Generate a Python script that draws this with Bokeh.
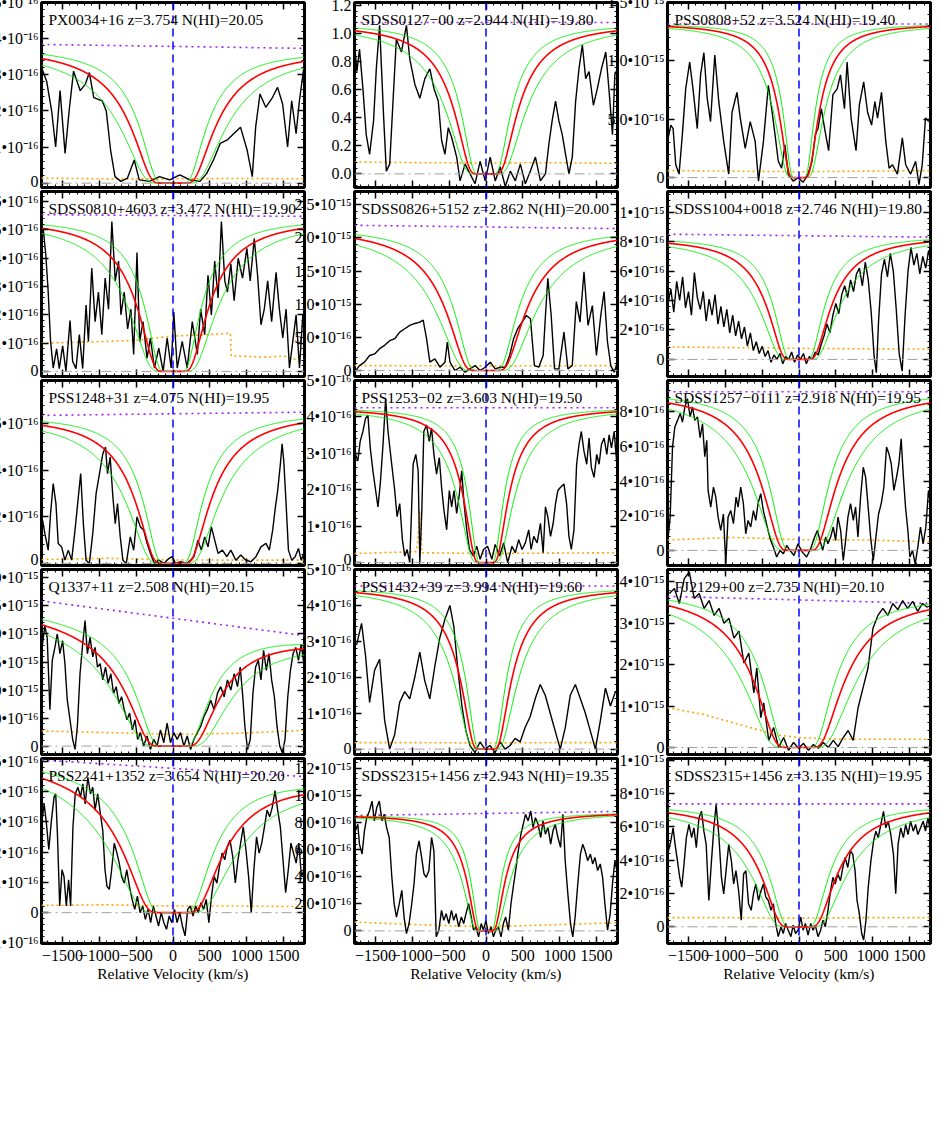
import numpy as np
from bokeh.plotting import figure
from bokeh.layouts import row, column
from bokeh.models import (Range1d, LinearAxis, FixedTicker, Label, Span,
                          CustomJSTickFormatter, Grid)
from bokeh.embed import file_html
from bokeh.resources import INLINE

# ---------------------------------------------------------------- data
NAMES = ["PX0034+16", "SDSS0127\u221200", "PSS0808+52",
         "SDSS0810+4603", "SDSS0826+5152", "SDSS1004+0018",
         "PSS1248+31", "PSS1253\u221202", "SDSS1257\u22120111",
         "Q1337+11", "PSS1432+39", "FJ2129+00",
         "PSS2241+1352", "SDSS2315+1456", "SDSS2315+1456"]
Z_ABS = ["3.754", "2.944", "3.524", "3.472", "2.862", "2.746", "4.075", "3.603",
         "2.918", "2.508", "3.994", "2.735", "3.654", "2.943", "3.135"]
LOG_NHI = [20.05, 19.80, 19.40, 19.90, 20.00, 19.80, 19.95, 19.50,
           19.95, 20.15, 19.60, 20.10, 20.20, 19.35, 19.95]
NHI_ERR = 0.2

# flux in units of 1e-16 (panel 2 is normalised)
V_01 = [-1785,-1716,-1648,-1593,-1533,-1465,-1410,-1350,-1259,-1190,-1135,-1076,-961,-906,-847,-787,-709,-618,-526,-458,-320,-183,-46,92,229,366,458,549,641,732,824,916,1007,1076,1122,1181,1259,1350,1419,1488,1556,1611,1671,1716,1776]
F_01 = [3.20,2.83,2.01,1.00,2.56,0.82,2.0,3.1,2.56,2.74,3.06,2.37,2.28,2.0,0.91,0.18,0.05,0.14,0.64,0.09,0.05,0.18,0.09,0.23,0.09,0.05,0.27,0.64,1.1,1.19,1.37,1.55,0.91,0.18,1.55,2.47,2.1,2.37,2.65,2.19,1.0,2.28,1.37,2.28,3.2]
V_02 = [-1785,-1753,-1717,-1671,-1626,-1580,-1526,-1489,-1444,-1389,-1353,-1307,-1262,-1217,-1148,-1080,-1035,-966,-898,-830,-762,-707,-648,-603,-557,-512,-466,-398,-352,-284,-216,-148,-80,-11,57,125,193,262,330,398,466,534,603,671,739,807,853,898,944,989,1035,1080,1126,1171,1217,1262,1308,1353,1399,1458,1512,1567,1626,1671,1717,1749,1785]
F_02 = [0.94,0.73,0.89,0.61,0.28,0.14,0.38,0.75,1.06,0.40,0.02,0.07,0.52,0.96,0.87,1.06,0.82,0.64,0.54,0.68,0.75,0.61,0.52,0.24,0.14,0.33,0.26,0.12,-0.05,0.07,0.0,-0.07,0.09,-0.05,0.12,-0.05,0.05,-0.09,0.02,-0.05,0.07,-0.07,0.02,0.12,-0.05,0.0,0.21,0.38,0.52,0.38,0.28,0.14,0.0,0.12,0.52,0.75,0.92,0.68,0.73,0.49,0.61,0.75,0.87,0.59,0.28,0.71,0.75]
V_03 = [-1785,-1740,-1709,-1673,-1628,-1583,-1538,-1484,-1439,-1381,-1336,-1291,-1246,-1201,-1143,-1089,-1022,-954,-909,-842,-797,-730,-662,-595,-550,-483,-416,-371,-326,-281,-236,-191,-146,-79,-11,56,123,177,222,258,303,348,402,460,518,563,617,653,707,774,819,878,931,985,1030,1066,1120,1178,1223,1268,1336,1403,1448,1515,1583,1628,1673,1717,1762]
F_03 = [3.1,4.5,4.2,1.1,0.3,3.7,7.6,9.9,7.6,4.2,8.8,10.7,6.8,4.8,10.5,6.5,3.1,0.3,5.6,7.3,5.1,2.5,4.8,3.1,-0.3,3.1,7.9,5.9,3.7,1.4,0.8,2.8,0.3,-0.3,0.0,-0.4,0.3,1.4,3.7,4.2,5.9,4.2,2.3,7.1,7.6,8.8,5.9,9.9,5.1,2.3,6.2,8.2,5.6,4.5,6.5,5.1,7.3,3.1,0.8,1.1,0.3,3.4,1.1,0.3,1.4,-0.6,1.1,5.1,4.8]
V_04 = [-1762,-1726,-1694,-1662,-1626,-1580,-1544,-1498,-1453,-1398,-1362,-1317,-1271,-1226,-1180,-1148,-1103,-1057,-1012,-966,-921,-875,-830,-784,-739,-707,-662,-616,-571,-534,-489,-452,-407,-352,-307,-252,-193,-134,-79,-25,11,57,125,193,262,330,375,430,475,521,566,612,657,703,739,785,830,885,944,1003,1048,1103,1148,1194,1239,1285,1339,1399,1444,1490,1535,1581,1626,1671,1717,1762,1785]
F_04 = [5.06,4.1,2.8,1.06,0.12,0.8,0.1,0.9,0.0,1.8,0.35,0.1,1.3,0.1,2.35,1.06,3.65,1.76,2.8,1.3,3.3,2.2,5.3,3.2,3.9,2.0,2.8,1.5,2.2,0.6,4.2,1.06,1.76,0.47,1.18,0.12,0.82,0.0,1.18,0.12,2.1,0.12,1.06,0.12,1.76,0.6,2.2,1.3,3.4,2.0,3.9,2.6,5.3,3.2,2.8,3.8,2.5,4.0,3.3,4.35,3.2,4.7,3.4,1.65,2.2,3.2,1.76,3.5,2.2,1.18,2.2,0.12,1.06,2.0,0.12,2.0,1.65]
V_05 = [-1785,-1717,-1649,-1580,-1512,-1444,-1376,-1307,-1239,-1171,-1103,-1035,-966,-898,-853,-807,-762,-694,-625,-557,-525,-489,-421,-352,-284,-216,-148,-80,-11,57,125,193,262,321,375,430,489,548,603,657,716,776,807,839,885,930,989,1058,1112,1171,1226,1276,1330,1385,1444,1499,1558,1603,1649,1694,1740,1785]
F_05 = [-0.25,0.75,1.26,2.27,2.5,3.3,3.8,4.5,4.8,5.8,6.3,6.8,7.1,7.3,7.6,4.8,1.26,1.77,0.5,1.26,4.3,1.26,0.0,0.5,-0.25,0.25,0.75,0.0,0.5,1.26,0.25,0.5,0.5,2.27,4.8,6.3,7.3,8.3,7.8,0.75,0.5,2.27,8.3,13.9,8.3,0.25,0.25,5.8,0.25,0.75,10.4,7.3,14.9,6.8,9.8,2.27,8.3,11.9,4.3,0.75,-0.25,1.26]
V_06 = [-1785,-1740,-1700,-1660,-1620,-1580,-1540,-1500,-1460,-1420,-1380,-1340,-1300,-1260,-1220,-1180,-1140,-1100,-1060,-1020,-980,-940,-900,-860,-820,-780,-740,-700,-660,-620,-580,-540,-500,-460,-420,-380,-340,-300,-260,-220,-180,-140,-100,-60,-20,20,60,100,140,180,220,260,300,340,380,420,460,500,540,580,620,660,700,740,780,820,860,900,940,980,1020,1050,1080,1120,1160,1200,1240,1280,1320,1360,1400,1440,1480,1520,1560,1600,1640,1680,1720,1760,1785]
F_06 = [3.6,4.8,3.2,5.3,4.0,5.6,3.5,4.6,3.0,5.9,4.2,3.4,4.6,2.6,4.1,3.0,4.4,2.4,3.6,2.2,3.4,1.8,3.0,1.6,2.6,1.4,2.2,0.9,1.8,0.6,1.2,0.4,0.9,0.2,0.6,-0.2,0.3,0.0,0.4,-0.3,0.2,0.0,0.5,-0.2,0.3,0.0,0.4,-0.3,0.2,0.0,0.5,0.3,1.0,1.6,2.4,1.8,3.0,3.8,3.1,4.4,5.0,4.2,5.4,4.6,5.8,6.2,5.0,6.6,5.4,3.2,0.2,-0.9,2.6,5.8,6.8,5.6,7.2,6.0,3.4,0.4,-0.8,3.0,6.0,7.6,6.4,7.2,5.8,7.0,6.2,7.4,6.8]
V_07 = [-1771,-1740,-1694,-1662,-1626,-1589,-1558,-1512,-1467,-1421,-1376,-1330,-1285,-1253,-1217,-1180,-1135,-1089,-1044,-998,-953,-916,-889,-853,-816,-784,-753,-716,-680,-634,-580,-534,-489,-443,-398,-352,-307,-252,-193,-125,-57,-11,34,102,193,284,339,384,430,475,521,566,612,671,730,785,853,921,989,1058,1126,1194,1262,1308,1353,1385,1421,1458,1481,1503,1535,1567,1612,1658,1703,1740,1776]
F_07 = [1.86,1.29,0.57,2.14,3.43,2.57,0.86,0.71,0.14,0.57,0.14,1.43,2.86,3.86,1.71,0.14,0.0,1.29,3.0,3.86,4.71,5.0,3.86,4.57,2.86,1.71,2.57,1.14,0.14,0.0,1.14,0.57,2.0,1.57,1.43,0.86,0.43,0.0,0.14,0.0,0.21,0.29,0.0,0.07,0.0,0.29,1.0,0.57,1.14,0.71,1.57,1.0,0.43,0.57,0.29,0.57,0.14,0.36,0.14,0.07,0.29,0.71,0.86,0.57,1.43,2.29,3.14,4.29,5.14,4.43,2.57,0.57,0.14,0.29,0.64,0.14,0.43]
V_08 = [-1771,-1740,-1708,-1671,-1635,-1603,-1571,-1535,-1498,-1467,-1435,-1398,-1362,-1330,-1285,-1239,-1207,-1171,-1135,-1103,-1071,-1035,-989,-953,-921,-898,-871,-844,-807,-771,-739,-707,-671,-634,-603,-571,-534,-498,-466,-434,-398,-361,-330,-298,-261,-225,-170,-125,-80,-34,21,80,125,184,239,294,353,398,444,489,534,580,612,648,694,739,776,807,839,876,912,944,976,1012,1058,1094,1126,1158,1194,1230,1262,1294,1330,1367,1399,1430,1467,1503,1535,1567,1603,1640,1671,1703,1740,1776]
F_08 = [2.97,2.79,3.33,3.6,3.96,4.05,3.15,2.52,1.98,1.53,2.16,3.24,4.5,3.6,2.79,1.98,1.26,1.62,0.63,0.18,0.36,0.0,2.7,2.97,2.52,0.0,1.44,3.6,3.78,3.33,3.69,2.97,2.43,2.88,2.07,1.44,0.9,1.98,1.53,1.98,1.35,1.89,2.52,1.62,0.9,0.36,0.18,0.45,0.09,0.36,0.45,0.09,0.5,0.18,0.54,0.0,0.45,0.27,0.63,0.36,0.54,0.9,0.36,0.72,0.54,1.08,0.27,1.53,1.26,0.72,1.08,1.62,1.98,2.07,2.16,1.62,0.72,0.36,0.9,2.7,3.24,3.6,3.06,2.7,3.42,2.61,2.34,2.97,2.7,3.24,3.42,2.97,3.51,3.15,3.6,2.7]
V_09 = [-1776,-1749,-1717,-1686,-1649,-1613,-1582,-1550,-1514,-1478,-1446,-1414,-1378,-1342,-1310,-1279,-1252,-1234,-1198,-1161,-1130,-1098,-1062,-1026,-994,-963,-926,-890,-854,-827,-791,-755,-723,-691,-655,-619,-587,-556,-520,-484,-452,-420,-384,-348,-303,-258,-212,-167,-122,-68,-14,45,104,158,212,249,285,321,362,393,429,465,497,529,565,601,633,664,700,737,768,800,836,872,904,935,972,1008,1044,1080,1116,1152,1188,1220,1252,1288,1324,1356,1387,1414,1446,1478,1505,1541,1577,1613,1649,1685,1722,1758,1785]
F_09 = [0.77,1.92,5.96,7.1,7.5,7.9,7.4,8.27,8.75,7.7,8.27,7.5,7.7,6.5,7.3,5.4,6.35,3.46,2.5,3.65,3.08,1.92,1.15,2.1,-0.77,1.92,2.3,1.54,3.08,2.5,3.65,2.7,0.96,1.73,1.35,2.3,1.73,2.7,3.27,2.3,1.73,1.15,0.58,0.19,-0.38,0.0,-0.19,0.29,0.0,-0.29,0.38,-0.1,-0.38,0.1,0.77,1.15,0.58,0.0,0.77,0.38,0.77,1.35,0.58,1.92,1.15,-0.58,0.58,1.92,2.7,1.73,2.5,0.77,3.08,4.8,4.23,2.7,0.77,-0.58,0.77,2.1,2.7,3.65,5.96,5.58,5.0,3.46,4.23,5.0,6.44,4.42,2.5,1.15,-0.38,0.0,-0.77,0.19,1.35,0.38,1.35,3.46,2.7]
V_10 = [-1771,-1740,-1708,-1671,-1639,-1603,-1571,-1535,-1498,-1467,-1435,-1398,-1362,-1330,-1298,-1262,-1226,-1194,-1162,-1126,-1089,-1057,-1025,-989,-953,-916,-880,-844,-807,-771,-734,-698,-662,-625,-589,-552,-516,-480,-443,-398,-352,-307,-261,-216,-170,-125,-80,-34,11,57,102,148,193,239,284,330,375,421,466,512,557,603,648,694,739,785,830,876,912,944,976,1012,1049,1085,1121,1158,1194,1230,1267,1303,1339,1376,1412,1449,1485,1521,1558,1594,1630,1667,1703,1740,1776]
F_10 = [18.2,21.5,19.4,6.5,15.3,17.6,20.0,16.5,18.8,14.7,8.2,4.7,1.2,-0.6,3.5,12.9,18.2,22.4,16.5,19.4,15.9,17.6,14.1,14.7,11.8,14.1,11.2,12.9,9.4,10.6,7.6,8.8,6.5,4.7,5.9,2.9,4.7,1.2,2.4,0.0,1.8,-0.6,1.2,0.0,2.9,0.6,4.1,0.6,2.4,1.2,2.4,0.0,1.8,-0.6,1.2,2.4,3.5,5.3,6.5,8.2,6.5,9.4,10.6,8.8,11.8,10.0,12.9,10.6,14.1,9.4,3.5,-0.6,1.2,9.4,14.1,15.3,11.8,17.1,13.5,16.5,11.8,8.8,3.5,0.0,-1.2,1.2,8.8,13.5,16.5,17.6,15.3,18.2,14.7]
V_11 = [-1757,-1689,-1635,-1580,-1512,-1444,-1376,-1308,-1240,-1172,-1104,-1035,-967,-899,-831,-763,-695,-627,-559,-490,-436,-381,-327,-272,-218,-150,-82,-14,54,123,191,259,327,395,463,531,599,668,736,804,872,940,1008,1076,1144,1213,1281,1349,1417,1485,1553,1621,1689,1757]
F_11 = [2.9,3.5,2.6,1.3,2.2,2.5,0.8,0.0,0.4,1.3,1.6,1.4,2.0,2.7,1.9,1.4,2.3,3.1,3.6,4.0,3.4,2.2,1.2,0.5,0.1,-0.1,0.2,0.0,0.1,-0.1,0.2,0.0,0.1,0.3,0.2,0.6,0.9,1.4,1.8,1.5,1.0,0.5,0.0,0.6,1.5,1.8,1.4,1.0,0.5,0.0,0.8,1.7,1.2,1.6]
V_12 = [-1759,-1692,-1624,-1557,-1489,-1422,-1355,-1287,-1220,-1152,-1085,-1018,-950,-883,-815,-748,-681,-613,-573,-519,-479,-411,-344,-276,-209,-142,-74,-7,61,128,195,263,330,398,465,532,600,667,735,802,869,937,1004,1071,1139,1206,1273,1341,1408,1475,1543,1610,1678,1745]
F_12 = [37.2,38.4,34.8,40.8,42.4,36.0,37.2,33.6,35.5,31.9,33.6,30.0,31.2,26.4,28.1,20.4,22.8,13.2,19.2,7.2,10.8,1.7,4.8,0.0,2.4,-0.7,1.2,-0.2,1.0,-0.7,0.7,-0.2,1.2,0.0,1.7,0.2,2.4,4.1,1.7,9.6,14.4,19.2,28.8,31.9,33.6,31.9,34.8,33.3,35.5,33.6,35.3,32.9,34.8,33.8]
V_13 = [-1776,-1749,-1718,-1686,-1650,-1614,-1592,-1569,-1538,-1507,-1480,-1448,-1417,-1390,-1358,-1327,-1291,-1255,-1224,-1192,-1156,-1120,-1089,-1058,-1022,-986,-954,-923,-896,-865,-833,-797,-761,-730,-698,-662,-627,-591,-555,-519,-483,-447,-411,-375,-339,-303,-267,-231,-196,-160,-124,-88,-52,-16,20,56,92,128,164,200,236,271,307,343,379,415,451,487,523,559,595,631,667,702,738,774,810,846,882,918,954,990,1026,1062,1098,1134,1169,1205,1241,1277,1313,1349,1385,1421,1457,1493,1529,1565,1601,1636,1672,1708,1744,1780]
F_13 = [3.06,3.6,2.95,2.08,3.06,3.83,3.93,2.62,0.22,1.42,1.2,0.22,1.09,0.22,2.84,3.93,4.15,3.83,4.26,3.6,4.48,3.93,4.15,3.39,3.93,3.28,2.73,1.42,0.87,0.77,1.42,2.3,1.97,1.64,1.2,0.98,1.42,0.87,0.44,0.11,0.55,0.0,0.22,-0.22,0.11,-0.33,0.22,-0.11,-0.44,0.0,-0.33,-0.55,-0.11,-0.33,0.11,-0.33,0.0,-0.44,-0.77,0.11,0.22,-0.11,0.22,0.0,0.33,0.11,0.44,-0.33,0.55,1.2,0.98,1.53,1.97,1.75,2.19,2.4,1.86,0.98,1.75,2.3,2.84,2.08,1.2,0.0,1.42,2.51,1.97,2.3,2.84,3.39,3.17,3.5,4.04,3.39,2.84,1.75,0.66,1.42,2.3,1.97,1.64,2.3,1.2,1.42]
V_14 = [-1772,-1740,-1718,-1682,-1650,-1619,-1583,-1547,-1516,-1484,-1448,-1412,-1381,-1349,-1314,-1278,-1246,-1215,-1179,-1143,-1112,-1080,-1044,-1008,-977,-945,-909,-874,-842,-811,-775,-739,-707,-676,-640,-604,-573,-541,-505,-469,-438,-407,-371,-335,-303,-272,-236,-200,-169,-137,-101,-65,-34,-2,33,69,101,132,168,204,236,267,303,339,370,402,438,474,505,536,572,608,640,671,707,743,774,806,842,878,909,940,976,1012,1044,1075,1111,1147,1178,1210,1246,1282,1313,1345,1381,1417,1448,1479,1515,1551,1583,1614,1650,1686,1717,1749,1776]
F_14 = [7.37,7.85,6.39,5.66,7.37,8.34,8.83,9.56,8.1,9.07,9.56,8.1,8.59,7.61,6.88,3.95,1.95,1.02,1.95,2.98,1.02,-0.2,0.54,2.0,3.46,5.66,6.63,5.41,4.2,3.95,4.44,6.88,5.9,-0.44,0.05,1.51,0.78,1.27,0.54,1.51,0.78,1.27,0.29,1.02,0.54,1.27,2.0,1.02,0.05,0.29,-0.44,0.54,0.05,0.78,-0.2,0.29,-0.44,0.05,0.29,-0.44,0.54,1.02,0.05,2.0,3.22,4.44,5.9,7.12,7.85,8.59,8.1,8.83,7.61,8.34,7.85,6.88,8.1,7.12,7.61,6.39,7.37,7.85,6.88,6.15,8.59,5.17,2.73,0.54,-0.44,1.02,3.46,5.66,6.39,5.9,5.17,5.66,4.93,5.41,4.44,4.93,3.95,2.0,0.05,1.27,3.46,5.17,4.44]
V_15 = [-1772,-1740,-1709,-1682,-1650,-1619,-1592,-1561,-1529,-1493,-1457,-1426,-1394,-1358,-1323,-1291,-1260,-1224,-1188,-1156,-1125,-1089,-1053,-1022,-990,-954,-918,-887,-856,-820,-784,-752,-721,-685,-649,-618,-586,-550,-514,-483,-451,-416,-380,-348,-317,-281,-245,-214,-182,-146,-110,-79,-47,-12,24,56,87,123,159,191,222,258,294,325,357,393,429,460,491,527,563,595,626,662,698,729,761,788,819,851,878,909,940,976,1012,1044,1075,1111,1147,1178,1210,1246,1282,1313,1345,1381,1417,1448,1480,1515,1551,1583,1614,1650,1686,1717,1749,1776]
F_15 = [4.55,5.15,5.94,4.95,3.96,2.97,2.38,3.76,5.35,6.14,5.35,5.94,4.75,6.53,6.93,5.74,4.95,1.58,3.96,5.94,7.33,5.54,2.97,1.98,3.37,4.95,3.96,2.57,3.37,2.18,0.4,3.17,3.37,1.39,0.99,1.98,2.57,1.58,2.18,2.57,1.78,1.58,0.99,1.39,0.2,-0.59,0.0,-0.4,0.2,-0.2,-0.59,0.1,-0.4,-0.2,0.59,-0.2,0.2,-0.5,0.2,-0.2,0.1,-0.59,-0.2,0.4,0.0,0.99,2.18,2.97,2.57,3.17,2.77,3.56,4.16,3.56,4.55,4.36,3.37,1.58,0.79,-0.4,-0.79,0.4,2.38,3.96,5.15,5.74,5.35,6.14,6.93,5.94,6.34,5.54,4.36,1.98,4.95,5.94,5.35,6.14,5.54,6.34,5.74,6.14,5.54,5.94,6.34,5.74,6.53,5.94]

SPEC_V = [V_01, V_02, V_03, V_04, V_05, V_06, V_07, V_08, V_09, V_10, V_11, V_12, V_13, V_14, V_15]
SPEC_F = [F_01, F_02, F_03, F_04, F_05, F_06, F_07, F_08, F_09, F_10, F_11, F_12, F_13, F_14, F_15]

# continuum (purple dotted) and model continuum, left / right ends
CONT_LEFT = [3.84, 1.08, 13.16, 5.54, 21.9, 8.5, 6.36, 4.25, 9.15, 25.9, 4.54, 36.5, 5.05, 8.5, 7.38]
CONT_RIGHT = [3.73, 1.08, 13.16, 5.48, 21.4, 8.3, 6.5, 4.25, 9.15, 19.7, 4.54, 34.8, 4.5, 8.8, 7.38]
MODEL_LEFT = [3.78, 1.075, 13.2, 5.4, 21.6, 8.3, 6.38, 4.25, 9.15, 24.3, 4.5, 38.0, 5.06, 8.55, 7.36]
MODEL_RIGHT = [3.69, 1.075, 13.2, 5.4, 21.3, 8.4, 6.5, 4.25, 9.15, 19.5, 4.5, 36.9, 4.44, 8.72, 7.36]

# error arrays (orange dotted)
ERR_V = [-1785, -900, 0, 900, 1785]
ERR_V_04 = [-1785, -1000, -500, 0, 500, 780, 790, 1300, 1500, 1600, 1785]
ERR_F_04 = [1.0, 1.05, 1.1, 1.25, 1.3, 1.35, 0.55, 0.5, 0.55, 0.45, 0.4]
ERR_V_08 = [-1785, -950, -925, -900, -880, -875, 0, 1785]
ERR_F_08 = [0.25, 0.3, 0.6, 1.4, 1.4, 0.27, 0.25, 0.27]
ERR_V_12 = [-1785, -1300, -800, -300, 0, 500, 1785]
ERR_F_12 = [9.6, 8.0, 5.5, 3.0, 2.4, 2.0, 2.0]
ERRS = [
    (ERR_V, [0.14, 0.12, 0.12, 0.13, 0.12]),
    (ERR_V, [0.085, 0.08, 0.078, 0.08, 0.075]),
    (ERR_V, [0.6, 0.55, 0.5, 0.55, 0.6]),
    (ERR_V_04, ERR_F_04),
    (ERR_V, [0.75, 0.72, 0.7, 0.72, 0.75]),
    (ERR_V, [0.85, 0.8, 0.75, 0.72, 0.7]),
    (ERR_V, [0.17, 0.22, 0.15, 0.14, 0.14]),
    (ERR_V_08, ERR_F_08),
    (ERR_V, [0.6, 0.75, 0.62, 0.6, 0.5]),
    (ERR_V, [2.7, 2.4, 2.1, 2.3, 2.8]),
    (ERR_V, [0.18, 0.18, 0.17, 0.18, 0.18]),
    (ERR_V_12, ERR_F_12),
    (ERR_V, [0.24, 0.26, 0.22, 0.22, 0.2]),
    (ERR_V, [0.65, 0.45, 0.3, 0.45, 0.6]),
    (ERR_V, [0.55, 0.55, 0.52, 0.55, 0.55]),
]

S16 = "\u202210\u207b\u00b9\u2076"
S15 = "\u202210\u207b\u00b9\u2075"
Y_TICKS = [
    [0, 1, 2, 3, 4, 5],
    [0.0, 0.2, 0.4, 0.6, 0.8, 1.0, 1.2],
    [0, 5, 10, 15],
    [0, 1, 2, 3, 4, 5, 6],
    [0, 5, 10, 15, 20, 25],
    [0, 2, 4, 6, 8, 10],
    [0, 2, 4, 6, 8],
    [0, 1, 2, 3, 4, 5],
    [0, 2, 4, 6, 8, 10],
    [0, 5, 10, 15, 20, 25, 30],
    [0, 1, 2, 3, 4, 5],
    [0, 10, 20, 30, 40],
    [-1, 0, 1, 2, 3, 4, 5],
    [0, 2, 4, 6, 8, 10, 12],
    [0, 2, 4, 6, 8, 10],
]
LBL_1 = ["0"] + [f"{k}{S16}" for k in range(1, 10)]
Y_LABELS = [
    LBL_1[:6],
    ["0.0", "0.2", "0.4", "0.6", "0.8", "1.0", "1.2"],
    ["0", "5.0" + S16, "1.0" + S15, "1.5" + S15],
    LBL_1[:7],
    ["0", "5.0" + S16, "1.0" + S15, "1.5" + S15, "2.0" + S15, "2.5" + S15],
    ["0", "2" + S16, "4" + S16, "6" + S16, "8" + S16, "1" + S15],
    ["0", "2" + S16, "4" + S16, "6" + S16, "8" + S16],
    LBL_1[:6],
    ["0", "2" + S16, "4" + S16, "6" + S16, "8" + S16, "1" + S15],
    ["0", "5.0" + S16, "1.0" + S15, "1.5" + S15, "2.0" + S15, "2.5" + S15, "3.0" + S15],
    LBL_1[:6],
    ["0", "1" + S15, "2" + S15, "3" + S15, "4" + S15],
    ["\u22121" + S16] + LBL_1[:6],
    ["0", "2.0" + S16, "4.0" + S16, "6.0" + S16, "8.0" + S16, "1.0" + S15, "1.2" + S15],
    ["0", "2" + S16, "4" + S16, "6" + S16, "8" + S16, "1" + S15],
]
X_TICKS = [-1500, -1000, -500, 0, 500, 1000, 1500]
X_LABELS = ["\u22121500", "\u22121000", "\u2212500", "0", "500", "1000", "1500"]
X_TITLE = "Relative Velocity (km/s)"

# ---------------------------------------------------------------- layout / style
XLIM = (-1785, 1785)
Y_RANGES = [(-0.12, 5.0), (-0.097, 1.223), (-0.85, 15.0), (-0.18, 6.36), (-0.9, 27.0),
            (-1.16, 11.4), (-0.09, 7.86), (-0.08, 5.0), (-0.87, 9.8), (-1.5, 31.5),
            (-0.15, 5.0), (-1.7, 43.0), (-1.02, 5.1), (-0.93, 12.7), (-1.0, 10.1)]
SIGMA_LYA = 2.592e-15  # damping-wing cross section * v^2  (cm^2 (km/s)^2)

FW, FH = 263, 185
LB, RB, TB, BB, BB_LAST = 75, 2, 12, 2, 48
ML_FIRST, ML = -34, -27
MT_FIRST, MT = -10, -10
FONT = "Liberation Serif"
TICK_FS = "16px"
TITLE_FS = "15.5px"


def fmt(ticks, labels):
    return CustomJSTickFormatter(args=dict(t=list(ticks), l=list(labels)), code="""
for (let i = 0; i < t.length; i++) { if (Math.abs(t[i] - tick) < 1e-6) { return l[i]; } }
return "";
""")


def add_axis(p, loc, ticker, formatter, show_labels, title=None):
    ax = LinearAxis(ticker=ticker, formatter=formatter)
    ax.axis_line_color = None
    ax.major_tick_in = 7
    ax.major_tick_out = 0
    ax.minor_tick_in = 3
    ax.minor_tick_out = 0
    ax.major_tick_line_color = "black"
    ax.minor_tick_line_color = "black"
    ax.major_tick_line_width = 1.5
    ax.minor_tick_line_width = 1
    if show_labels:
        ax.major_label_text_font = FONT
        ax.major_label_text_font_size = TICK_FS
        ax.major_label_text_color = "black"
        ax.major_label_standoff = 3 if loc == "left" else 6
    else:
        ax.major_label_text_font_size = "0px"
        ax.major_label_standoff = 0
    if title:
        ax.axis_label = title
        ax.axis_label_text_font = FONT
        ax.axis_label_text_font_size = TITLE_FS
        ax.axis_label_text_font_style = "normal"
        ax.axis_label_text_color = "black"
        ax.axis_label_standoff = 1
    p.add_layout(ax, loc)


def profile(vg, logn, cl, cr):
    cont = cl + (cr - cl) * (vg - XLIM[0]) / (XLIM[1] - XLIM[0])
    with np.errstate(divide="ignore"):
        tau = 10.0 ** logn * SIGMA_LYA / vg ** 2
    return cont * np.exp(-tau)


VG = np.arange(XLIM[0], XLIM[1] + 1, 5.0)
blank = CustomJSTickFormatter(code="return '';")
x_minor = [v for v in range(-1700, 1800, 100) if v % 500 != 0]

figs = []
for k in range(15):
    r, c = divmod(k, 3)
    last = (r == 4)
    y0, y1 = Y_RANGES[k]
    p = figure(frame_width=FW, frame_height=FH,
               x_range=Range1d(*XLIM), y_range=Range1d(y0, y1),
               output_backend="svg", toolbar_location=None,
               x_axis_location=None, y_axis_location=None,
               min_border_left=LB, min_border_right=RB, min_border_top=TB,
               min_border_bottom=BB_LAST if last else BB)
    p.center = [m for m in p.center if not isinstance(m, Grid)]
    p.outline_line_color = "black"
    p.outline_line_width = 3
    p.outline_line_alpha = 1.0
    p.background_fill_color = "white"
    p.border_fill_alpha = 0.0
    p.margin = (MT_FIRST if r == 0 else MT, 0, 0, ML_FIRST if c == 0 else ML)

    yt = Y_TICKS[k]
    step = yt[1] - yt[0]
    ym = [yt[0] + i * step / 5.0 for i in range(-10, 5 * len(yt) + 10)]
    ym = [v for v in ym if y0 <= v <= y1]
    yticker = FixedTicker(ticks=yt, minor_ticks=ym)
    xticker = FixedTicker(ticks=X_TICKS, minor_ticks=x_minor)

    add_axis(p, "left", yticker, fmt(yt, Y_LABELS[k]), True)
    add_axis(p, "right", yticker, blank, False)
    add_axis(p, "above", xticker, blank, False)
    if last:
        add_axis(p, "below", xticker, fmt(X_TICKS, X_LABELS), True, X_TITLE)
    else:
        add_axis(p, "below", xticker, blank, False)

    # zero level
    p.add_layout(Span(location=0, dimension="width", line_color="#a0a0a0",
                      line_dash="10 4 2 4", line_width=1))
    # error array
    ev, ef = ERRS[k]
    p.line(ev, ef, line_color="#ffa500", line_dash="2 3", line_width=1.6)
    # continuum
    p.line(list(XLIM), [CONT_LEFT[k], CONT_RIGHT[k]], line_color="#a020f0",
           line_dash="2 4", line_width=1.6)
    # spectrum
    n = min(len(SPEC_V[k]), len(SPEC_F[k]))
    p.line(SPEC_V[k][:n], SPEC_F[k][:n], line_color="black", line_width=1.4)
    # damped Lya model and +-error
    for dn, col, lw in ((NHI_ERR, "#00ee00", 1.0), (-NHI_ERR, "#00ee00", 1.0), (0.0, "#ff0000", 1.6)):
        p.line(VG, profile(VG, LOG_NHI[k] + dn, MODEL_LEFT[k], MODEL_RIGHT[k]),
               line_color=col, line_width=lw)
    # systemic velocity
    p.add_layout(Span(location=0, dimension="height", line_color="#0000ff",
                      line_dash="8 5", line_width=1.5))
    p.add_layout(Label(x=XLIM[0], y=y1, x_offset=7, y_offset=-8,
                       text=f"{NAMES[k]} z={Z_ABS[k]} N(HI)={LOG_NHI[k]:.2f}",
                       text_font=FONT, text_font_size=TITLE_FS, text_color="black",
                       text_baseline="top", text_align="left"))
    figs.append(p)

layout = column(*[row(*figs[3 * i:3 * i + 3]) for i in range(5)])

with open("out.html", "w") as fh:
    fh.write(file_html(layout, INLINE, "DLA velocity profiles"))
